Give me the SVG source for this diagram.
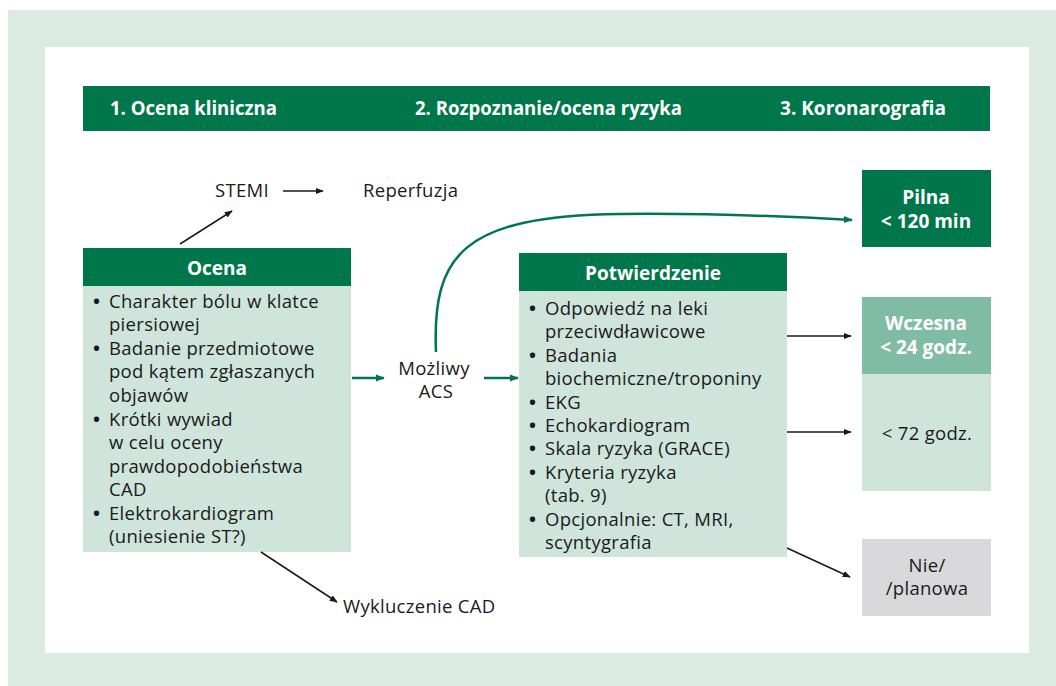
<svg xmlns="http://www.w3.org/2000/svg" width="1056" height="686" viewBox="0 0 1056 686">
<defs>
<style>
.t{font-family:"Open Sans","Liberation Sans",sans-serif;font-size:18.5px;letter-spacing:0.3px;fill:#1a1a1a}
.bu{font-weight:bold;letter-spacing:0}
.hb{font-family:"Open Sans","Liberation Sans",sans-serif;font-size:19px;font-weight:bold;fill:#fff}
.bw{font-family:"Open Sans","Liberation Sans",sans-serif;font-size:19px;font-weight:bold;fill:#fff}
.dark{fill:#00774a}
.light{fill:#cfe5dc}
.k{stroke:#1a1a1a;stroke-width:1.5;fill:none}
.g{stroke:#00774a;stroke-width:2.5;fill:none}
</style>
<marker id="ak" viewBox="0 0 10 10" refX="9" refY="5" markerWidth="8" markerHeight="8" markerUnits="userSpaceOnUse" orient="auto"><path d="M0,1 L10,5 L0,9 z" fill="#1a1a1a"/></marker>
<marker id="ag" viewBox="0 0 10 10" refX="9" refY="5" markerWidth="9" markerHeight="9" markerUnits="userSpaceOnUse" orient="auto"><path d="M0,1 L10,5 L0,9 z" fill="#00774a"/></marker>
</defs>
<rect x="8" y="10" width="1048" height="676" fill="#dbebe4"/>
<rect x="45" y="47" width="984" height="606" fill="#fff"/>
<g id="header">
<rect x="83" y="86" width="907" height="45" class="dark"/>
<text x="110" y="115" class="hb" textLength="167" lengthAdjust="spacingAndGlyphs">1. Ocena kliniczna</text>
<text x="415" y="115" class="hb" textLength="267" lengthAdjust="spacingAndGlyphs">2. Rozpoznanie/ocena ryzyka</text>
<text x="780" y="115" class="hb" textLength="166" lengthAdjust="spacingAndGlyphs">3. Koronarografia</text>
</g>
<g id="stemi"><text x="215" y="197" class="t">STEMI</text></g>
<g id="reperfuzja"><text x="363" y="197" class="t">Reperfuzja</text></g>
<g id="ocena">
<rect x="83" y="248" width="268" height="38" class="dark"/>
<rect x="83" y="286" width="268" height="266" class="light"/>
<text x="217" y="275" class="bw" text-anchor="middle">Ocena</text>
<text class="t">
<tspan x="93" y="308" class="bu">•</tspan><tspan x="109" y="308">Charakter bólu w klatce</tspan>
<tspan x="109" y="331">piersiowej</tspan>
<tspan x="93" y="355" class="bu">•</tspan><tspan x="109" y="355">Badanie przedmiotowe</tspan>
<tspan x="109" y="378">pod kątem zgłaszanych</tspan>
<tspan x="109" y="402">objawów</tspan>
<tspan x="93" y="426" class="bu">•</tspan><tspan x="109" y="426">Krótki wywiad</tspan>
<tspan x="109" y="449">w celu oceny</tspan>
<tspan x="109" y="473">prawdopodobieństwa</tspan>
<tspan x="109" y="496">CAD</tspan>
<tspan x="93" y="520" class="bu">•</tspan><tspan x="109" y="520">Elektrokardiogram</tspan>
<tspan x="109" y="543">(uniesienie ST?)</tspan>
</text>
</g>
<g id="mozliwy-acs">
<text x="434" y="375" class="t" text-anchor="middle">Możliwy</text>
<text x="436" y="398" class="t" text-anchor="middle">ACS</text>
</g>
<g id="potwierdzenie">
<rect x="519" y="253" width="268" height="38" class="dark"/>
<rect x="519" y="291" width="268" height="266" class="light"/>
<text x="653" y="280" class="bw" text-anchor="middle">Potwierdzenie</text>
<text class="t">
<tspan x="529" y="315" class="bu">•</tspan><tspan x="545" y="315">Odpowiedź na leki</tspan>
<tspan x="545" y="338">przeciwdławicowe</tspan>
<tspan x="529" y="362" class="bu">•</tspan><tspan x="545" y="362">Badania</tspan>
<tspan x="545" y="385">biochemiczne/troponiny</tspan>
<tspan x="529" y="409" class="bu">•</tspan><tspan x="545" y="409">EKG</tspan>
<tspan x="529" y="432" class="bu">•</tspan><tspan x="545" y="432">Echokardiogram</tspan>
<tspan x="529" y="455" class="bu">•</tspan><tspan x="545" y="455">Skala ryzyka (GRACE)</tspan>
<tspan x="529" y="479" class="bu">•</tspan><tspan x="545" y="479">Kryteria ryzyka</tspan>
<tspan x="545" y="502">(tab. 9)</tspan>
<tspan x="529" y="526" class="bu">•</tspan><tspan x="545" y="526">Opcjonalnie: CT, MRI,</tspan>
<tspan x="545" y="549">scyntygrafia</tspan>
</text>
</g>
<g id="pilna">
<rect x="862" y="170" width="129" height="77" class="dark"/>
<text x="926" y="204" class="bw" text-anchor="middle">Pilna</text>
<text x="926" y="228" class="bw" text-anchor="middle">&lt; 120 min</text>
</g>
<g id="wczesna">
<rect x="862" y="297" width="129" height="77" fill="#80bca3"/>
<text x="926" y="330" class="bw" text-anchor="middle">Wczesna</text>
<text x="926" y="354" class="bw" text-anchor="middle">&lt; 24 godz.</text>
</g>
<g id="72h">
<rect x="862" y="374" width="129" height="117" class="light"/>
<text x="927" y="440" class="t" text-anchor="middle">&lt; 72 godz.</text>
</g>
<g id="planowa">
<rect x="862" y="539" width="129" height="77" fill="#d9d9db"/>
<text x="927" y="572" class="t" text-anchor="middle">Nie/</text>
<text x="927" y="595" class="t" text-anchor="middle">/planowa</text>
</g>
<g id="wykluczenie"><text x="343" y="613" class="t">Wykluczenie CAD</text></g>
<g id="connectors">
<line x1="180" y1="244" x2="232" y2="211" class="k" marker-end="url(#ak)"/>
<line x1="283" y1="191" x2="323" y2="191" class="k" marker-end="url(#ak)"/>
<line x1="352" y1="378" x2="384" y2="378" class="g" marker-end="url(#ag)"/>
<line x1="484" y1="378" x2="518" y2="378" class="g" marker-end="url(#ag)"/>
<path d="M436,352 C432,255 462,216 620,214 C720,213 800,217 852,220" class="g" marker-end="url(#ag)"/>
<line x1="787" y1="336" x2="851" y2="336" class="k" marker-end="url(#ak)"/>
<line x1="787" y1="432" x2="851" y2="432" class="k" marker-end="url(#ak)"/>
<line x1="787" y1="548" x2="850" y2="577" class="k" marker-end="url(#ak)"/>
<line x1="261" y1="552" x2="337" y2="602" class="k" marker-end="url(#ak)"/>
</g>
</svg>
